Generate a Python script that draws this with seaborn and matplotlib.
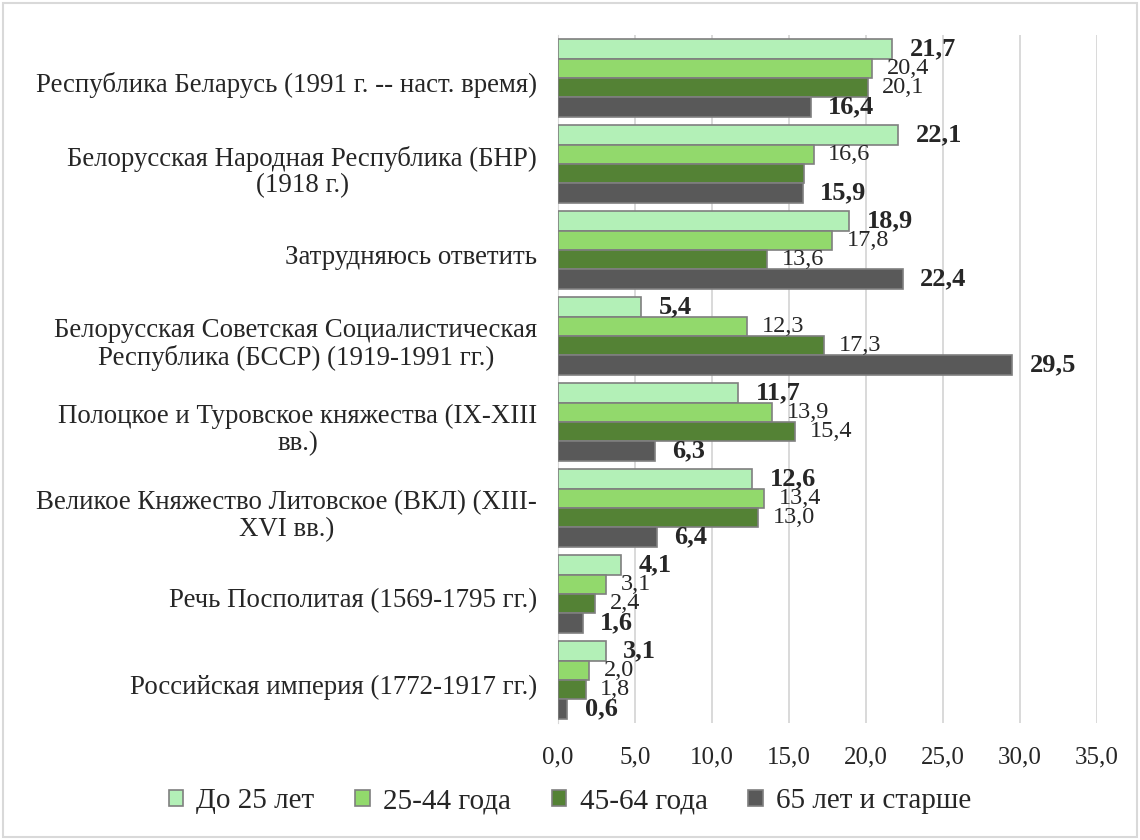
import numpy as np
import pandas as pd
import matplotlib
matplotlib.use("Agg")
import matplotlib.pyplot as plt
import matplotlib.transforms as mtransforms
import seaborn as sns

categories = [
    "Республика Беларусь (1991 г. -- наст. время)",
    "Белорусская Народная Республика (БНР)\n(1918 г.)",
    "Затрудняюсь ответить",
    "Белорусская Советская Социалистическая\nРеспублика (БССР) (1919-1991 гг.)",
    "Полоцкое и Туровское княжества (IX-XIII\nвв.)",
    "Великое Княжество Литовское (ВКЛ) (XIII-\nXVI вв.)",
    "Речь Посполитая (1569-1795 гг.)",
    "Российская империя (1772-1917 гг.)",
]
groups = ["До 25 лет", "25-44 года", "45-64 года", "65 лет и старше"]
under25 = [21.7, 22.1, 18.9, 5.4, 11.7, 12.6, 4.1, 3.1]
age25_44 = [20.4, 16.6, 17.8, 12.3, 13.9, 13.4, 3.1, 2.0]
age45_64 = [20.1, 16.0, 13.6, 17.3, 15.4, 13.0, 2.4, 1.8]
over65 = [16.4, 15.9, 22.4, 29.5, 6.3, 6.4, 1.6, 0.6]
# the 45-64 label for the BNR row is not shown in the original
hidden = {(2, 1)}

colors = ["#b3f0b7", "#92d96c", "#548235", "#595959"]

series = [under25, age25_44, age45_64, over65]
df = pd.DataFrame({
    "cat": np.tile(categories, 4),
    "grp": np.repeat(groups, len(categories)),
    "val": np.concatenate(series),
})

sns.set_style("white")
plt.rcParams["font.family"] = ["Liberation Serif", "DejaVu Serif"]

fig = plt.figure(figsize=(11.4, 8.4), dpi=100)
ax = fig.add_axes([0.4895, 0.1393, 0.4728, 0.819])

sns.barplot(data=df, y="cat", x="val", hue="grp", orient="h", palette=colors,
            saturation=1, width=0.9, edgecolor="#7f7f7f", linewidth=1.2, ax=ax,
            legend=True, errorbar=None, zorder=3)

for gi, cont in enumerate(ax.containers):
    labs = []
    for ci, v in enumerate(series[gi]):
        labs.append("" if (gi, ci) in hidden else f"{v:.1f}".replace(".", ","))
    bold = gi in (0, 3)
    ax.bar_label(cont, labels=labs, padding=12.5 if bold else 10.5,
                 fontsize=19 if bold else 17.5,
                 fontweight="bold" if bold else "normal", zorder=5)

ax.set_xlim(0, 35)
ax.set_xticks(np.arange(0, 36, 5))
ax.set_xticklabels([f"{t:.1f}".replace(".", ",") for t in np.arange(0, 36, 5)], fontsize=18)
ax.tick_params(axis="y", labelsize=19.4, length=0, pad=15)
ax.tick_params(axis="x", length=0, pad=17)
shift = mtransforms.ScaledTranslation(0, -4 / 100, fig.dpi_scale_trans)
for lab in ax.get_yticklabels():
    lab.set_multialignment("center")
    lab.set_linespacing(1.1)
    lab.set_transform(lab.get_transform() + shift)
ax.set_xlabel("")
ax.set_ylabel("")
ax.grid(axis="x", color="#d9d9d9", linewidth=1.4, zorder=0)
for s in ["top", "right", "bottom"]:
    ax.spines[s].set_visible(False)
ax.spines["left"].set_color("#d9d9d9")

handles, labels = ax.get_legend_handles_labels()
ax.get_legend().remove()
fig.legend(handles, labels, loc="center", bbox_to_anchor=(0.5, 0.046), ncol=4,
           frameon=False, fontsize=21, handlelength=0.5, handleheight=0.5,
           handletextpad=0.45, columnspacing=1.4)

fig.add_artist(plt.Rectangle((0.003, 0.003), 0.994, 0.994, transform=fig.transFigure,
                             fill=False, edgecolor="#d9d9d9", linewidth=1.5))

fig.savefig("out.png", dpi=100)
